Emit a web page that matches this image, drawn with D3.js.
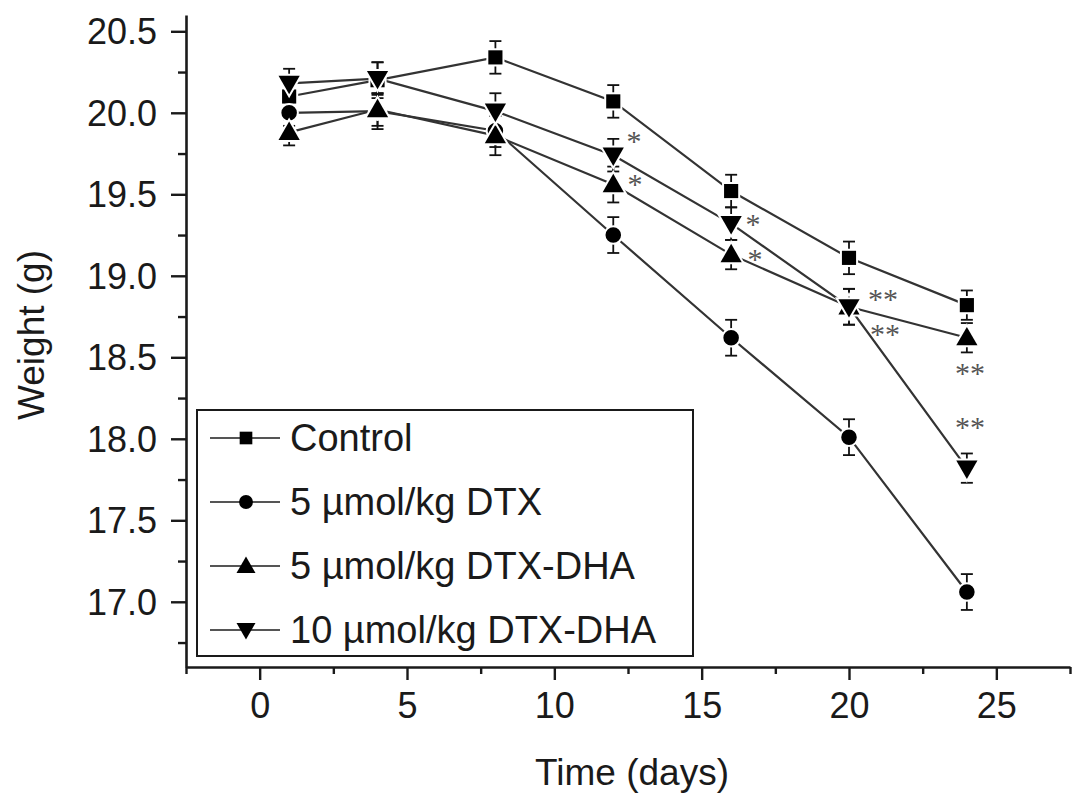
<!DOCTYPE html>
<html>
<head>
<meta charset="utf-8">
<script src="https://cdn.jsdelivr.net/npm/d3@7"></script>
<style>
  body { margin: 0; background: #fff; }
  text { font-family: "Liberation Sans", Arial, Helvetica, sans-serif; fill: #1a1a1a; }
</style>
</head>
<body>
<div id="chart"></div>
<script>
const dims = { width: 1087, height: 807, left: 186, right: 1070, top: 15, bottom: 667 };

// values
const days = [1, 4, 8, 12, 16, 20, 24];
const control    = [20.10, 20.20, 20.34, 20.07, 19.52, 19.11, 18.82];
const controlErr = [0.09, 0.11, 0.10, 0.10, 0.10, 0.10, 0.09];
const dtx        = [20.00, 20.01, 19.89, 19.25, 18.62, 18.01, 17.06];
const dtxErr     = [0.08, 0.11, 0.10, 0.11, 0.11, 0.11, 0.11];
const dha5       = [19.88, 20.02, 19.86, 19.56, 19.13, 18.81, 18.62];
const dha5Err    = [0.08, 0.10, 0.12, 0.11, 0.09, 0.11, 0.09];
const dha10      = [20.18, 20.21, 20.01, 19.74, 19.32, 18.81, 17.82];
const dha10Err   = [0.09, 0.10, 0.11, 0.10, 0.10, 0.11, 0.09];

const seriesNames = ["Control", "5 \u00b5mol/kg DTX", "5 \u00b5mol/kg DTX-DHA", "10 \u00b5mol/kg DTX-DHA"];

const xTicks = [0, 5, 10, 15, 20, 25];
const yTicks = [17.0, 17.5, 18.0, 18.5, 19.0, 19.5, 20.0, 20.5];

// significance marks
const starX = [12.70, 12.74, 16.74, 16.81, 21.15, 21.22, 24.11, 24.11];
const starY = [19.85, 19.59, 19.34, 19.13, 18.88, 18.67, 18.43, 18.10];
const starText = ["*", "*", "*", "*", "**", "**", "**", "**"];

const series = [
    { name: seriesNames[0], values: control, err: controlErr, shape: d3.symbolSquare, size: 200, rot: 0 },
    { name: seriesNames[1], values: dtx, err: dtxErr, shape: d3.symbolCircle, size: 190, rot: 0 },
    { name: seriesNames[2], values: dha5, err: dha5Err, shape: d3.symbolTriangle, size: 195, rot: 0 },
    { name: seriesNames[3], values: dha10, err: dha10Err, shape: d3.symbolTriangle, size: 195, rot: 180 }
];

const svg = d3.select("#chart")
    .append("svg")
    .attr("width", dims.width)
    .attr("height", dims.height);

const x = d3.scaleLinear().domain([-2.5, 27.5]).range([dims.left, dims.right]);
const y = d3.scaleLinear().domain([16.6, 20.6]).range([dims.bottom, dims.top]);

// axes
const xAxis = svg.append("g")
    .attr("transform", `translate(0,${dims.bottom})`)
    .call(d3.axisBottom(x).tickValues(d3.range(-2.5, 27.6, 2.5)).tickSize(13).tickSizeOuter(0)
        .tickFormat(d => xTicks.includes(d) ? d : ""));
xAxis.selectAll(".tick").filter(d => !xTicks.includes(d)).select("line").attr("y2", 7);

const yAxis = svg.append("g")
    .attr("transform", `translate(${dims.left},0)`)
    .call(d3.axisLeft(y).tickValues(d3.range(16.75, 20.6, 0.25)).tickSize(15).tickSizeOuter(0)
        .tickFormat(d => yTicks.some(t => Math.abs(t - d) < 1e-6) ? d3.format(".1f")(d) : ""));
yAxis.selectAll(".tick").filter(d => !yTicks.some(t => Math.abs(t - d) < 1e-6)).select("line").attr("x2", -8);

[xAxis, yAxis].forEach(a => {
    a.select(".domain").attr("stroke", "#1a1a1a").attr("stroke-width", 2.6);
    a.selectAll(".tick line").attr("stroke", "#1a1a1a").attr("stroke-width", 2.4);
    a.selectAll(".tick text").style("font-size", "36px").attr("fill", "#1a1a1a");
});
xAxis.selectAll(".tick text").attr("dy", "0.71em").attr("y", 25);
yAxis.selectAll(".tick text").attr("x", -29).attr("dy", "0.35em");

// axis titles
svg.append("text")
    .attr("x", (dims.left + dims.right) / 2 + 4)
    .attr("y", 785)
    .attr("text-anchor", "middle")
    .style("font-size", "37px")
    .text("Time (days)");

svg.append("text")
    .attr("transform", `translate(44,335) rotate(-90)`)
    .attr("text-anchor", "middle")
    .style("font-size", "37px")
    .text("Weight (g)");

// lines
const line = d3.line().x((d, i) => x(days[i])).y(d => y(d));
svg.append("g")
    .selectAll("path")
    .data(series)
    .join("path")
    .attr("d", s => line(s.values))
    .attr("fill", "none")
    .attr("stroke", "#333")
    .attr("stroke-width", 2.2);

// error bars
const bars = svg.append("g")
    .selectAll("g")
    .data(series.flatMap(s => s.values.map((v, i) => ({ x: days[i], v, e: s.err[i] }))))
    .join("g")
    .attr("stroke", "#111")
    .attr("stroke-width", 1.8);
bars.append("line")
    .attr("x1", d => x(d.x)).attr("x2", d => x(d.x))
    .attr("y1", d => y(d.v - d.e)).attr("y2", d => y(d.v + d.e));
bars.append("line")
    .attr("x1", d => x(d.x) - 6).attr("x2", d => x(d.x) + 6)
    .attr("y1", d => y(d.v + d.e)).attr("y2", d => y(d.v + d.e));
bars.append("line")
    .attr("x1", d => x(d.x) - 6).attr("x2", d => x(d.x) + 6)
    .attr("y1", d => y(d.v - d.e)).attr("y2", d => y(d.v - d.e));

// markers with a white halo (lines stop short of symbols)
svg.append("g")
    .selectAll("g")
    .data(series)
    .join("g")
    .selectAll("path")
    .data(s => s.values.map((v, i) => ({ s, x: days[i], v })))
    .join("path")
    .attr("d", d => d3.symbol(d.s.shape, d.s.size)())
    .attr("transform", d => `translate(${x(d.x)},${y(d.v) + (d.s.shape === d3.symbolTriangle ? (d.s.rot ? -1 : 1) * 1.5 : 0)}) rotate(${d.s.rot})`)
    .attr("fill", "#000")
    .attr("stroke", "#fff")
    .attr("stroke-width", 4)
    .attr("paint-order", "stroke");

// significance asterisks
svg.append("g")
    .selectAll("text")
    .data(starText.map((t, i) => ({ t, x: starX[i], y: starY[i] })))
    .join("text")
    .attr("x", d => x(d.x))
    .attr("y", d => y(d.y) + 14)
    .attr("text-anchor", "middle")
    .style("font-family", "'Liberation Serif', 'Times New Roman', serif")
    .style("font-size", "30px")
    .style("fill", "#555")
    .text(d => d.t);

// legend
const legend = svg.append("g");
legend.append("rect")
    .attr("x", 197).attr("y", 410)
    .attr("width", 496).attr("height", 246)
    .attr("fill", "#fff")
    .attr("stroke", "#1a1a1a")
    .attr("stroke-width", 2);

const items = legend.selectAll("g")
    .data(series)
    .join("g")
    .attr("transform", (d, i) => `translate(0,${438 + i * 64})`);
items.append("line")
    .attr("x1", 210).attr("x2", 280)
    .attr("stroke", "#555").attr("stroke-width", 2);
items.append("path")
    .attr("d", d => d3.symbol(d.shape, d.size * 0.8)())
    .attr("transform", d => `translate(246,${d.shape === d3.symbolTriangle ? (d.rot ? -1 : 1) * 1.5 : 0}) rotate(${d.rot})`)
    .attr("fill", "#000");
items.append("text")
    .attr("x", 290)
    .attr("y", 13)
    .style("font-size", "38px")
    .text(d => d.name);
</script>
</body>
</html>
